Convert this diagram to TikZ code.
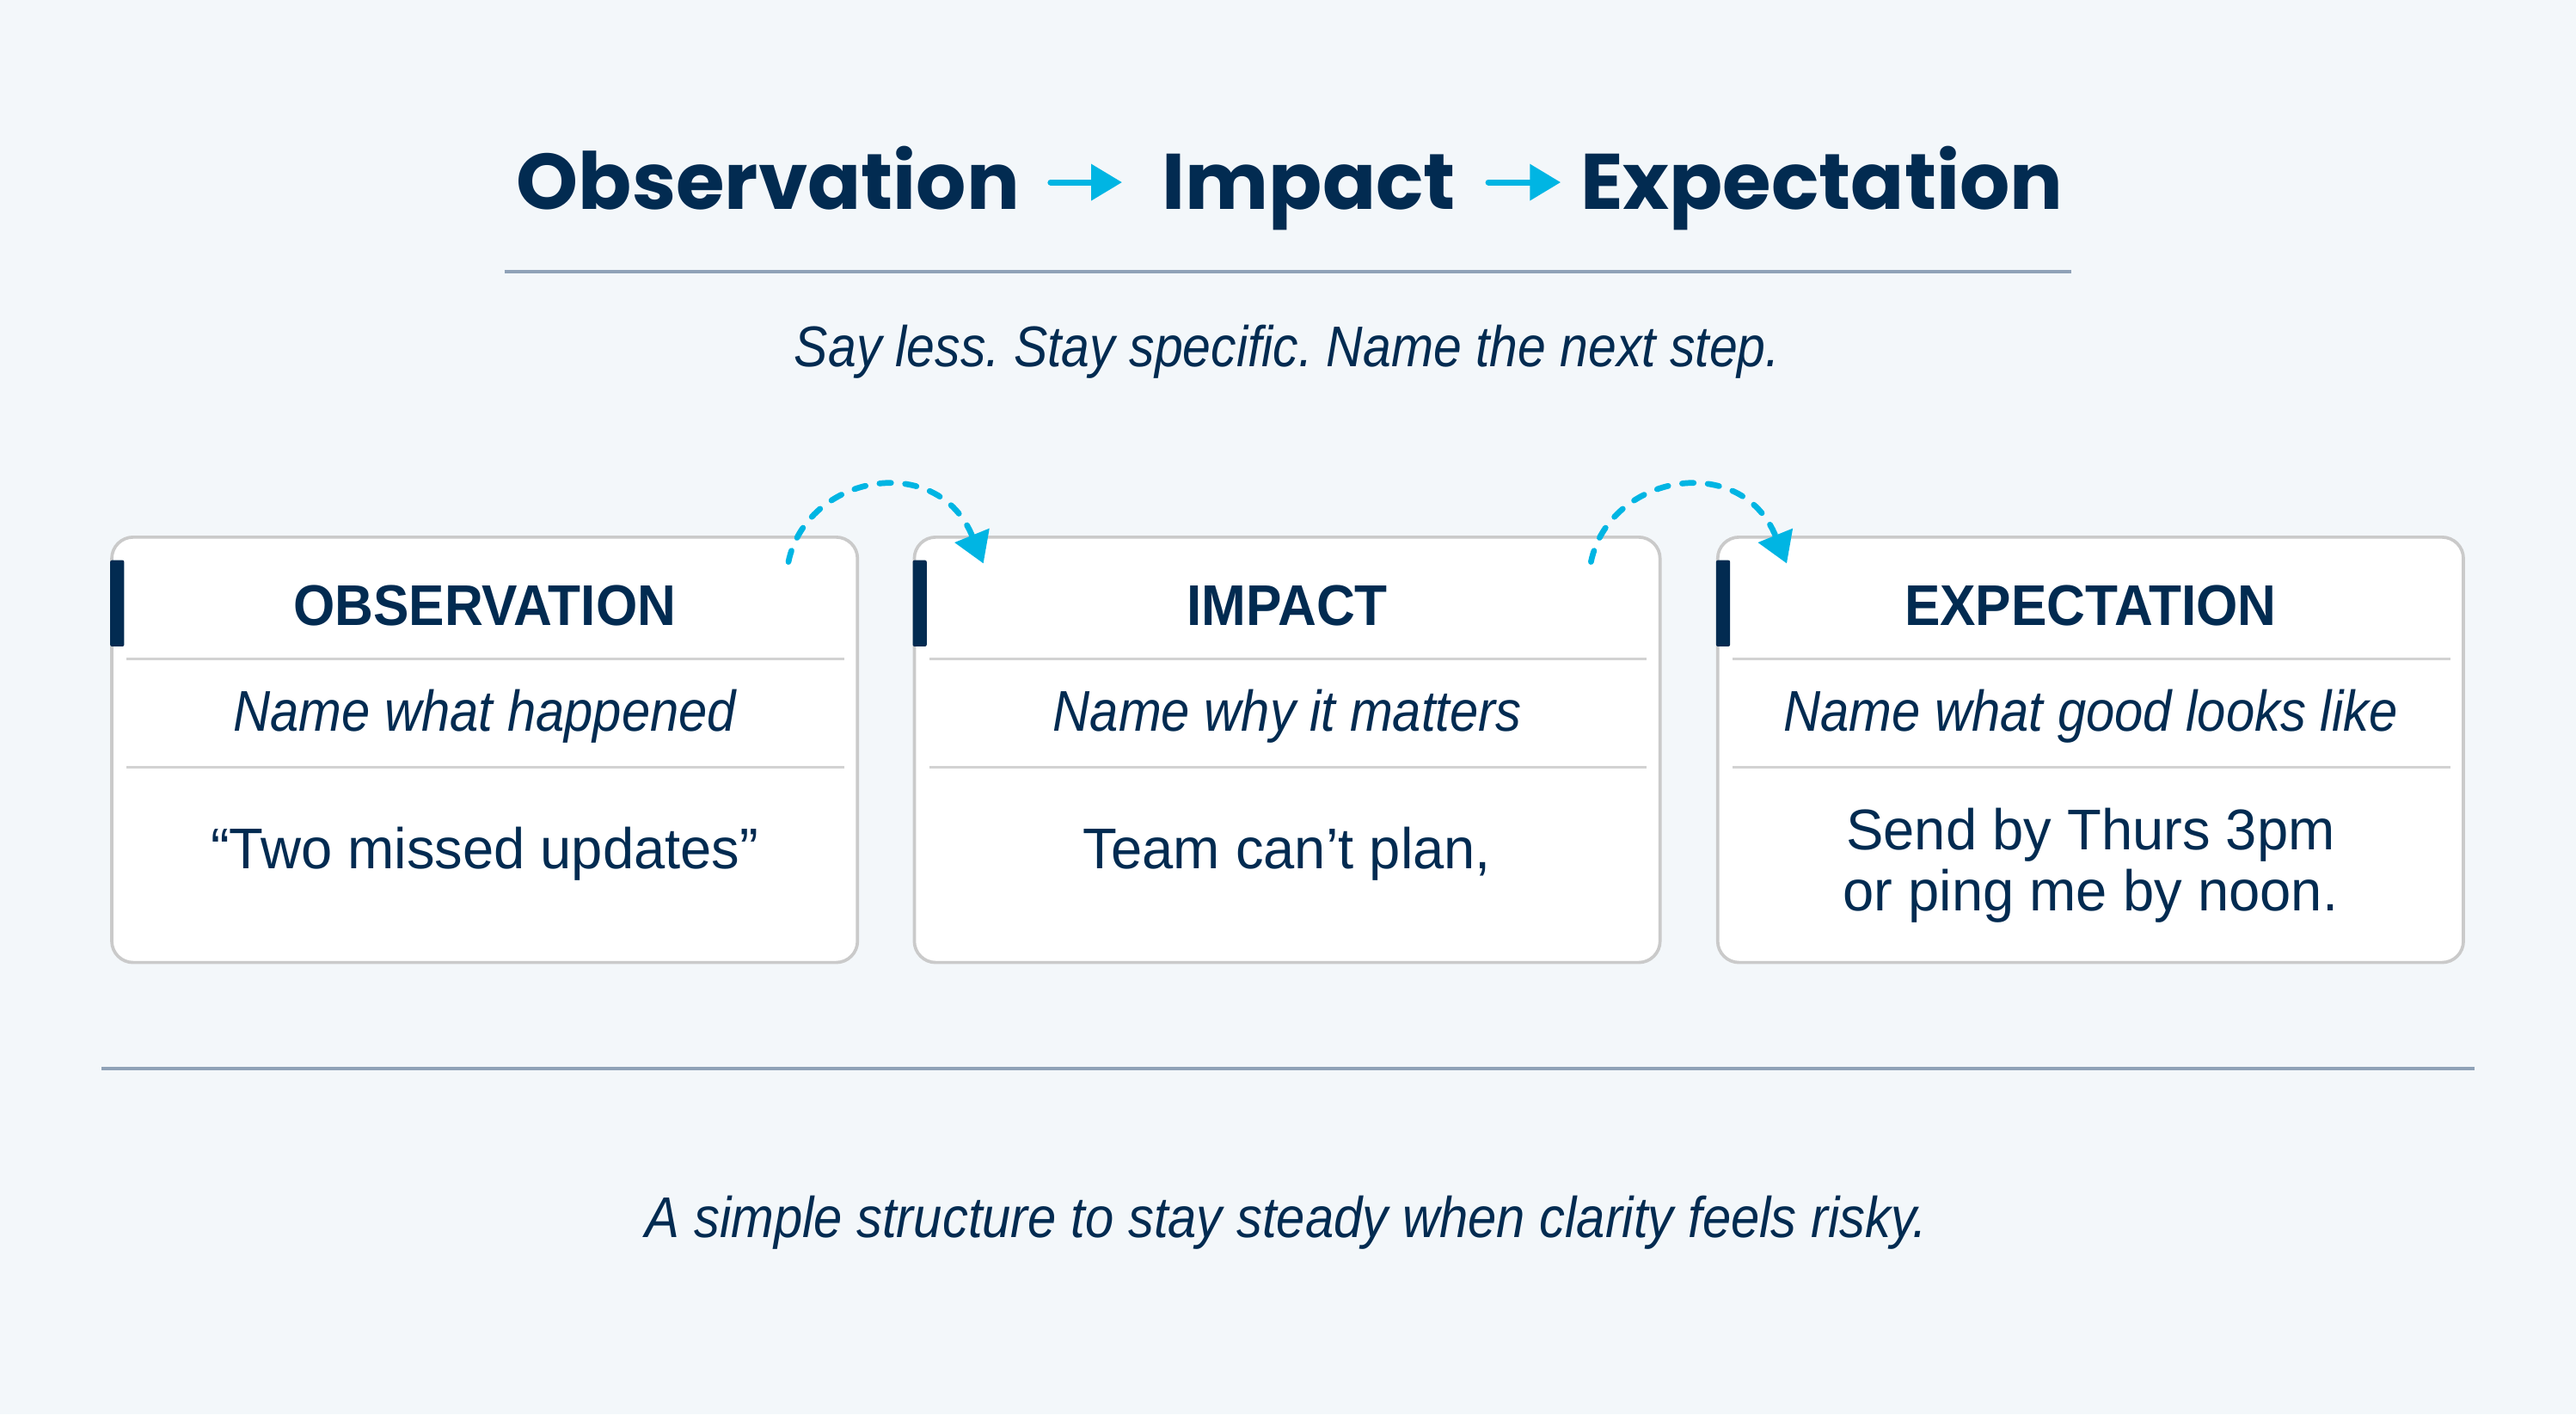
\documentclass[tikz,border=0pt]{standalone}
\usepackage{fontspec}
\setmainfont{Liberation Sans}
\newfontfamily\titlefont{Poppins}
\newfontfamily\headfont{Liberation Sans}[FakeStretch=0.93]
\newfontfamily\itfont{Liberation Sans}[FakeStretch=0.895]
\newfontfamily\subfont{Liberation Sans}[FakeStretch=0.882]
\newfontfamily\bodyfont{Liberation Sans}[FakeStretch=0.975]
\usetikzlibrary{arrows.meta,calc}
\definecolor{navy}{HTML}{022B51}
\definecolor{accentcyan}{HTML}{00B5E3}
\definecolor{bgcol}{HTML}{F3F7FA}
\definecolor{cardline}{HTML}{CACACA}
\definecolor{rulecol}{HTML}{8FA2B7}
\definecolor{sepcol}{HTML}{D2D2D2}
\tikzset{
  txt/.style={inner sep=0pt, outer sep=0pt, text=navy},
  titletxt/.style={txt, anchor=base west, font={\fontsize{27.3}{30}\selectfont\titlefont\bfseries}},
  headtxt/.style={txt, anchor=base, font={\fontsize{19.9}{22}\selectfont\headfont\bfseries}},
  ittxt/.style={txt, anchor=base, font={\fontsize{19.9}{22}\selectfont\itfont\itshape\frenchspacing}},
  subtxt/.style={txt, anchor=base, font={\fontsize{19.9}{22}\selectfont\subfont\itshape\frenchspacing}},
  bodytxt/.style={txt, anchor=base, align=center, font={\fontsize{19.9}{21.2}\selectfont\bodyfont\frenchspacing}},
  card/.style={draw=cardline, line width=1.1pt, fill=white, rounded corners=7.4pt,
    minimum width=9.08cm, minimum height=5.18cm, inner sep=0pt},
  accentbar/.style={fill=navy, rounded corners=0.6pt},
  sepline/.style={draw=sepcol, line width=0.85pt},
  rulestyle/.style={draw=rulecol, line width=1.1pt},
  titlearrow/.style={draw=accentcyan, line width=2.1pt, line cap=round,
    -{Triangle[length=10.7pt,width=12.2pt]}},
  hoparrow/.style={draw=accentcyan, line width=2pt, line cap=round,
    dash pattern=on 4pt off 4.9pt, -{Triangle[length=10.5pt,width=12.5pt]}}
}
\begin{document}
\begin{tikzpicture}[x=0.02cm,y=-0.02cm]
\fill[bgcol] (0,0) rectangle (1568,861);
\useasboundingbox (0,0) rectangle (1568,861);

% title
\node[titletxt] (t1) at (314.5,127.7) {Observation};
\node[titletxt] (t2) at (707.5,127.7) {Impact};
\node[titletxt] (t3) at (962,127.7) {Expectation};
\coordinate (a1s) at (639.5,111);
\coordinate (a1e) at (683,111);
\coordinate (a2s) at (906,111);
\coordinate (a2e) at (950,111);
\draw[titlearrow] (a1s) -- (a1e);
\draw[titlearrow] (a2s) -- (a2e);

\coordinate (r1l) at (307,165.5);
\coordinate (r1r) at (1261,165.5);
\draw[rulestyle] (r1l) -- (r1r);

\node[subtxt] (sub) at (783.5,223.3) {Say less. Stay specific. Name the next step.};

% cards
\node[card] (c1) at (295,456.5) {};
\node[card] (c2) at (783.5,456.5) {};
\node[card] (c3) at (1272.5,456.5) {};

\foreach \c in {c1,c2,c3}{
  \fill[accentbar] ($(\c.north west)+(0,15)$) rectangle ($(\c.north west)+(8.5,67.5)$);
  \draw[sepline] ($(\c.north west)+(10,75)$) -- ($(\c.north east)+(-9,75)$);
  \draw[sepline] ($(\c.north west)+(10,141)$) -- ($(\c.north east)+(-9,141)$);
}

\node[headtxt] (h1) at ($(c1.north)+(0,54.5)$) {OBSERVATION};
\node[headtxt] (h2) at ($(c2.north)+(0,54.5)$) {IMPACT};
\node[headtxt] (h3) at ($(c3.north)+(0,54.5)$) {EXPECTATION};

\node[ittxt] (i1) at ($(c1.north)+(0,119)$) {Name what happened};
\node[ittxt] (i2) at ($(c2.north)+(0,119)$) {Name why it matters};
\node[ittxt] (i3) at ($(c3.north)+(0,119)$) {Name what good looks like};

\node[bodytxt] (b1) at ($(c1.north)+(0,202.6)$) {“Two missed updates”};
\node[bodytxt] (b2) at ($(c2.north)+(0,202.6)$) {Team can’t plan,};
\node[bodytxt] (b3) at ($(c3.north)+(0,228.5)$) {Send by Thurs 3pm\\or ping me by noon.};

% hop arrows
\coordinate (h1s) at ($(c1.north east)+(-43,16)$);
\coordinate (h1e) at ($(c2.north west)+(43,17)$);
\coordinate (h2s) at ($(c2.north east)+(-43,16)$);
\coordinate (h2e) at ($(c3.north west)+(43,17)$);
\draw[hoparrow] (h1s) .. controls ($(h1s)+(11,-53)$) and ($(h1e)+(-28,-69)$) .. (h1e);
\draw[hoparrow] (h2s) .. controls ($(h2s)+(11,-53)$) and ($(h2e)+(-28,-69)$) .. (h2e);

% bottom
\coordinate (r2l) at (62,650.5);
\coordinate (r2r) at (1506,650.5);
\draw[rulestyle] (r2l) -- (r2r);
\node[ittxt] (foot) at (783,753.6) {A simple structure to stay steady when clarity feels risky.};
\end{tikzpicture}
\end{document}
